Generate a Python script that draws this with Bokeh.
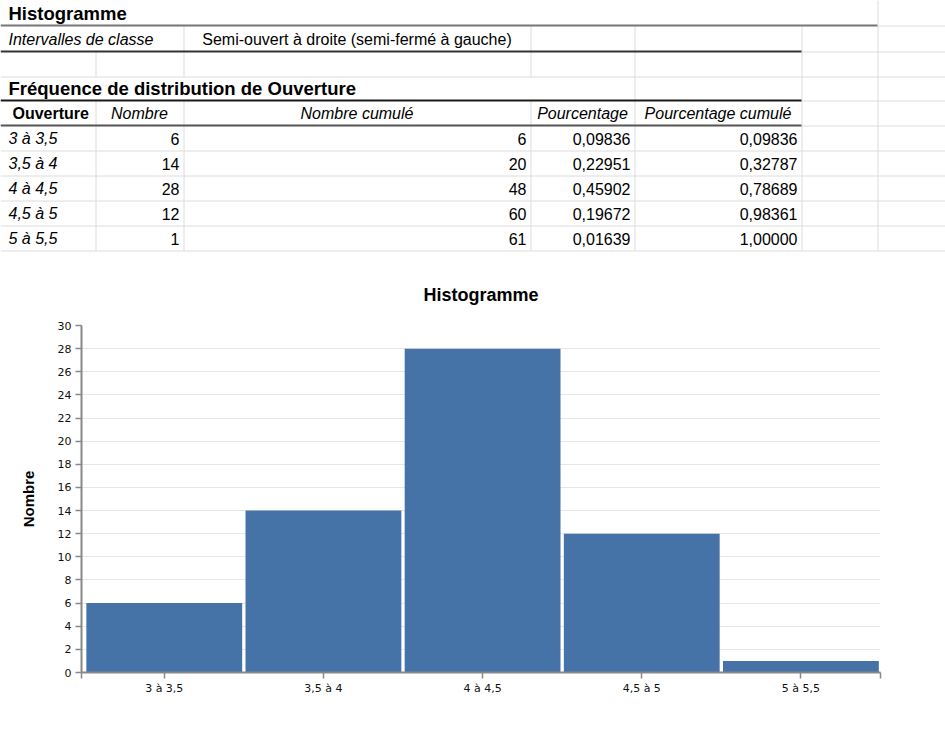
from bokeh.plotting import figure
from bokeh.models import Range1d, FixedTicker
from bokeh.core.properties import value
from bokeh.embed import file_html
from bokeh.resources import INLINE

# ---------------- data ----------------
classes = ["3 à 3,5", "3,5 à 4", "4 à 4,5", "4,5 à 5", "5 à 5,5"]
nombre = [6, 14, 28, 12, 1]
nombre_cumule = [6, 20, 48, 60, 61]
pourcentage = [0.09836, 0.22951, 0.45902, 0.19672, 0.01639]
pourcentage_cumule = [0.09836, 0.32787, 0.78689, 0.98361, 1.00000]
headers = ["Ouverture", "Nombre", "Nombre cumulé", "Pourcentage", "Pourcentage cumulé"]
y_ticks = list(range(0, 31, 2))

titre_feuille = "Histogramme"
label_intervalles = "Intervalles de classe"
valeur_intervalles = "Semi-ouvert à droite (semi-fermé à gauche)"
titre_table = "Fréquence de distribution de Ouverture"
titre_graph = "Histogramme"
label_y = "Nombre"

FONT = value("Liberation Sans")
W = 945
TOP_H = 253
HIST_H = 744 - TOP_H

def fr(v):
    return f"{v:.5f}".replace(".", ",")

# ---------------- spreadsheet part ----------------
t = figure(width=W, height=TOP_H, x_range=Range1d(0, W), y_range=Range1d(TOP_H, 0),
           output_backend="svg", toolbar_location=None,
           x_axis_location=None, y_axis_location=None,
           min_border_left=0, min_border_right=0, min_border_top=0, min_border_bottom=0)
t.grid.visible = False
t.outline_line_color = None
t.background_fill_color = "white"
t.border_fill_color = "white"

C = [0, 95, 183, 530, 634, 801, 877, 945]
R = [0, 25, 51, 76, 100, 125, 150, 175, 200, 225, 250]
LIGHT = "#dcdcdc"

# light grid: horizontal
hx0, hx1, hy = [], [], []
for (a, b, y) in [(877, 945, 25), (801, 945, 51), (0, 945, 76), (801, 945, 100), (801, 945, 125),
                  (0, 945, 150), (0, 945, 175), (0, 945, 200), (0, 945, 225), (0, 945, 250)]:
    hx0.append(a); hx1.append(b); hy.append(y + 0.5)
t.segment(x0=hx0, y0=hy, x1=hx1, y1=hy, line_color=LIGHT, line_width=1)

# light grid: vertical
vx, vy0, vy1 = [], [], []
for (x, a, b) in [(877, 0, 250), (801, 25, 250), (634, 25, 250), (530, 25, 76), (530, 100, 250),
                  (183, 25, 76), (183, 100, 250), (95, 51, 76), (95, 100, 250)]:
    vx.append(x + 0.5); vy0.append(a); vy1.append(b)
t.segment(x0=vx, y0=vy0, x1=vx, y1=vy1, line_color=LIGHT, line_width=1)

# heavy rules
t.segment(x0=[0], y0=[25], x1=[877], y1=[25], line_color="#777777", line_width=2)
t.segment(x0=[0, 0, 0], y0=[51, 100, 125], x1=[801, 801, 801], y1=[51, 100, 125],
          line_color=["#333333", "#1a1a1a", "#555555"], line_width=2)

# texts
t.text(x=[8], y=[13], text=[titre_feuille], text_font=FONT, text_font_size="18.5px",
       text_font_style="bold", text_baseline="middle", text_color="black")
t.text(x=[8], y=[39], text=[label_intervalles], text_font=FONT, text_font_size="16px",
       text_font_style="italic", text_baseline="middle", text_color="black")
t.text(x=[(C[2] + C[3]) / 2], y=[39], text=[valeur_intervalles], text_font=FONT, text_font_size="16px",
       text_baseline="middle", text_align="center", text_color="black")
t.text(x=[8], y=[88], text=[titre_table], text_font=FONT, text_font_size="18.5px",
       text_font_style="bold", text_baseline="middle", text_color="black")

# header row
t.text(x=[12], y=[113], text=[headers[0]], text_font=FONT, text_font_size="16px",
       text_font_style="bold", text_baseline="middle", text_color="black")
t.text(x=[(C[i] + C[i + 1]) / 2 for i in range(1, 5)], y=[113] * 4, text=headers[1:],
       text_font=FONT, text_font_size="16px", text_font_style="italic",
       text_baseline="middle", text_align="center", text_color="black")

# data rows
rows_y = [(R[5 + i] + R[6 + i]) / 2 + 0.5 for i in range(len(classes))]
t.text(x=[8] * len(classes), y=rows_y, text=classes, text_font=FONT, text_font_size="16px",
       text_font_style="italic", text_baseline="middle", text_color="black")
cols = [[str(v) for v in nombre], [str(v) for v in nombre_cumule],
        [fr(v) for v in pourcentage], [fr(v) for v in pourcentage_cumule]]
for ci, vals in enumerate(cols):
    xr = C[ci + 2] - 4
    t.text(x=[xr] * len(vals), y=rows_y, text=vals, text_font=FONT, text_font_size="16px",
           text_baseline="middle", text_align="right", text_color="black")

# ---------------- histogram ----------------
n = len(classes)
centers = [i + 0.5 for i in range(n)]
X0, X1 = -0.02, 5.0

h = figure(width=W, height=HIST_H, x_range=Range1d(X0, X1), y_range=Range1d(0, 30),
           output_backend="svg", toolbar_location=None, title=titre_graph,
           min_border_left=81, min_border_right=65, min_border_top=72, min_border_bottom=72)
h.title.align = "center"
h.title.text_font = "Liberation Sans"
h.title.text_font_size = "18px"
h.title.text_font_style = "bold"
h.title.text_color = "black"
h.title.standoff = 42
h.outline_line_color = None
h.background_fill_color = "white"
h.border_fill_color = "white"

h.vbar(x=centers, top=nombre, width=0.979, bottom=0, fill_color="#4572A7", line_color=None)

h.xgrid.visible = False
h.ygrid.grid_line_color = "#e6e6e6"
h.ygrid.grid_line_width = 1

xt = [X0] + centers + [X1]
h.xaxis.ticker = FixedTicker(ticks=xt)
ov = {c: lab for c, lab in zip(centers, classes)}
ov[X0] = ""
ov[X1] = ""
h.xaxis.major_label_overrides = ov
h.yaxis.ticker = FixedTicker(ticks=y_ticks)
for ax in (h.xaxis[0], h.yaxis[0]):
    ax.axis_line_color = "#888888"
    ax.axis_line_width = 2
    ax.major_tick_line_color = "#888888"
    ax.major_tick_line_width = 1.5
    ax.major_tick_out = 6
    ax.major_tick_in = 0
    ax.minor_tick_line_color = None
    ax.major_label_text_font = "DejaVu Sans"
    ax.major_label_text_font_size = "11px"
    ax.major_label_text_color = "#111111"
    ax.major_label_standoff = 4
h.xaxis.major_label_standoff = 3

h.yaxis.axis_label = label_y
h.yaxis.axis_label_text_font = "Liberation Sans"
h.yaxis.axis_label_text_font_size = "15px"
h.yaxis.axis_label_text_font_style = "bold"
h.yaxis.axis_label_text_color = "black"
h.yaxis.axis_label_standoff = 18

open("out.html", "w").write(file_html([t, h], INLINE))
